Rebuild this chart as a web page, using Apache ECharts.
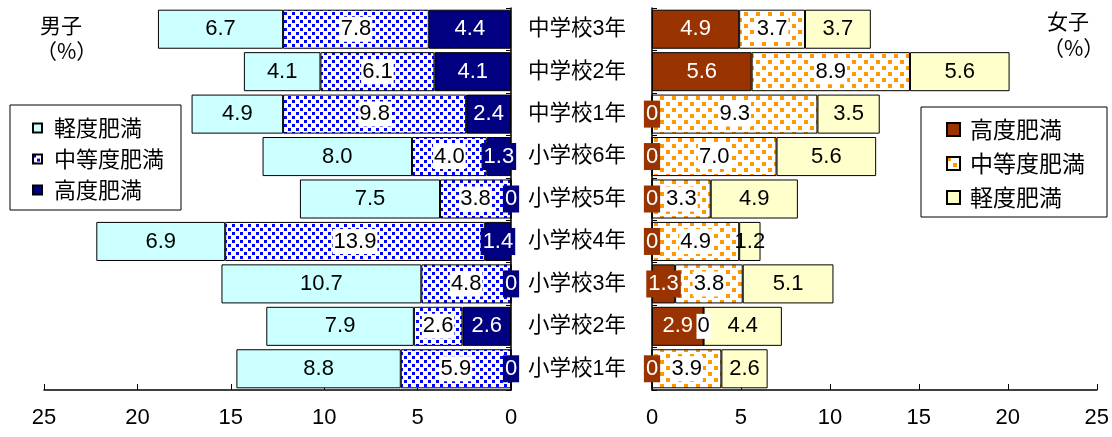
<!DOCTYPE html>
<html>
<head>
<meta charset="utf-8">
<script src="https://cdn.jsdelivr.net/npm/echarts@6/dist/echarts.min.js"></script>
<style>
  html, body { margin: 0; padding: 0; background: #fff; }
  #chart { width: 1112px; height: 437px; }
</style>
</head>
<body>
<div id="chart"></div>
<script>
// School grades, bottom to top
const categories = ['小学校1年', '小学校2年', '小学校3年', '小学校4年', '小学校5年', '小学校6年', '中学校1年', '中学校2年', '中学校3年'];

// Boys (%) by obesity level
const boysSevere   = [0, 2.6, 0, 1.4, 0, 1.3, 2.4, 4.1, 4.4];
const boysModerate = [5.9, 2.6, 4.8, 13.9, 3.8, 4.0, 9.8, 6.1, 7.8];
const boysMild     = [8.8, 7.9, 10.7, 6.9, 7.5, 8.0, 4.9, 4.1, 6.7];

// Girls (%) by obesity level
const girlsSevere   = [0, 2.9, 1.3, 0, 0, 0, 0, 5.6, 4.9];
const girlsModerate = [3.9, 0, 3.8, 4.9, 3.3, 7.0, 9.3, 8.9, 3.7];
const girlsMild     = [2.6, 4.4, 5.1, 1.2, 4.9, 5.6, 3.5, 5.6, 3.7];

// Axis ticks
const axisMax = 25;
const axisStep = 5;

// Legend texts
const levelNames = { sev: '高度肥満', mod: '中等度肥満', mild: '軽度肥満' };

const FONT = "'Liberation Sans', 'Noto Sans CJK JP', sans-serif";
const CJK = "'Noto Sans CJK JP', sans-serif";

// Dotted fill used for the "moderate" segments
function dotPattern(color, tile, dot) {
  const c = document.createElement('canvas');
  c.width = tile; c.height = tile;
  const g = c.getContext('2d');
  g.fillStyle = '#ffffff';
  g.fillRect(0, 0, tile, tile);
  g.fillStyle = color;
  g.fillRect(0, 0, dot, dot);
  g.fillRect(tile / 2, tile / 2, dot, dot);
  return { image: c, repeat: 'repeat' };
}

const bluePattern = dotPattern('#0000ff', 8, 3);
const orangePattern = dotPattern('#ff9900', 12, 4);

const fmt = p => (p.value === 0 ? '0' : p.value.toFixed(1));

function barSeries(id, data, grid, stack, fill, label) {
  return {
    id: id,
    name: id,
    type: 'bar',
    xAxisIndex: grid,
    yAxisIndex: grid,
    stack: stack,
    data: data,
    barWidth: '92%',
    itemStyle: { color: fill, borderColor: '#000', borderWidth: 1 },
    label: Object.assign({
      show: true,
      position: 'inside',
      formatter: fmt,
      fontSize: 22,
      fontFamily: FONT
    }, label),
    emphasis: { disabled: true }
  };
}

const darkLabel = bg => ({ color: '#fff', backgroundColor: bg, padding: [3, 2, 2, 2] });
const whiteBoxLabel = { color: '#000', backgroundColor: '#fff', padding: [2, 1, 1, 1] };
const plainLabel = { color: '#000' };

function valueAxis(grid, inverse) {
  return {
    gridIndex: grid,
    type: 'value',
    min: 0,
    max: axisMax,
    interval: axisStep,
    inverse: inverse,
    axisLine: { show: true, lineStyle: { color: '#000', width: 1.5 } },
    axisTick: { show: true, inside: true, length: 6, lineStyle: { color: '#000', width: 1 } },
    splitLine: { show: false },
    axisLabel: { color: '#000', fontSize: 22, margin: 17, fontFamily: FONT }
  };
}

function categoryAxis(grid, position, showLabel) {
  return {
    gridIndex: grid,
    type: 'category',
    data: categories,
    position: position,
    axisLine: { show: true, onZero: false, lineStyle: { color: '#000', width: 1.5 } },
    axisTick: { show: true, inside: true, length: 5, lineStyle: { color: '#000' } },
    axisLabel: { show: showLabel, color: '#000', fontSize: 21.5, margin: 17, fontFamily: FONT, align: 'left' }
  };
}

const chart = echarts.init(document.getElementById('chart'), null, { renderer: 'canvas' });

chart.setOption({
  animation: false,
  backgroundColor: '#fff',
  textStyle: { fontFamily: FONT },
  grid: [
    { left: 44, right: 601, top: 8, bottom: 47 },
    { left: 652, right: 15, top: 8, bottom: 47 }
  ],
  xAxis: [valueAxis(0, true), valueAxis(1, false)],
  yAxis: [categoryAxis(0, 'right', true), categoryAxis(1, 'left', false)],
  legend: [
    {
      data: ['b_mild', 'b_mod', 'b_sev'],
      orient: 'vertical',
      left: 10,
      top: 105,
      icon: 'rect',
      itemWidth: 9,
      itemHeight: 9,
      itemGap: 9,
      padding: [12, 17, 9, 22],
      backgroundColor: '#fff',
      borderColor: '#000',
      borderWidth: 1,
      selectedMode: false,
      formatter: n => levelNames[n.split('_')[1]],
      textStyle: { color: '#000', fontSize: 22, fontFamily: CJK, padding: [0, 0, 0, 7] }
    },
    {
      data: ['g_sev', 'g_mod', 'g_mild'],
      orient: 'vertical',
      left: 921,
      top: 107,
      icon: 'rect',
      itemWidth: 13,
      itemHeight: 13,
      itemGap: 11,
      padding: [11, 22, 8, 25],
      backgroundColor: '#fff',
      borderColor: '#000',
      borderWidth: 1,
      selectedMode: false,
      formatter: n => levelNames[n.split('_')[1]],
      textStyle: { color: '#000', fontSize: 23, fontFamily: CJK, padding: [0, 0, 0, 5] }
    }
  ],
  graphic: [
    { type: 'text', left: 40, top: 15, style: { text: '男子', fontSize: 21, fontFamily: CJK, fill: '#000' } },
    { type: 'text', left: 36, top: 41, style: { text: '（%）', fontSize: 21, fontFamily: CJK, fill: '#000' } },
    { type: 'text', left: 1047, top: 11, style: { text: '女子', fontSize: 21, fontFamily: CJK, fill: '#000' } },
    { type: 'text', left: 1043, top: 38, style: { text: '（%）', fontSize: 21, fontFamily: CJK, fill: '#000' } }
  ],
  series: [
    barSeries('b_sev', boysSevere, 0, 'boys', '#000080', darkLabel('#000080')),
    barSeries('b_mod', boysModerate, 0, 'boys', bluePattern, whiteBoxLabel),
    barSeries('b_mild', boysMild, 0, 'boys', '#ccffff', plainLabel),
    barSeries('g_sev', girlsSevere, 1, 'girls', '#993300', darkLabel('#993300')),
    barSeries('g_mod', girlsModerate, 1, 'girls', orangePattern, whiteBoxLabel),
    barSeries('g_mild', girlsMild, 1, 'girls', '#ffffcc', plainLabel)
  ]
});
</script>
</body>
</html>
